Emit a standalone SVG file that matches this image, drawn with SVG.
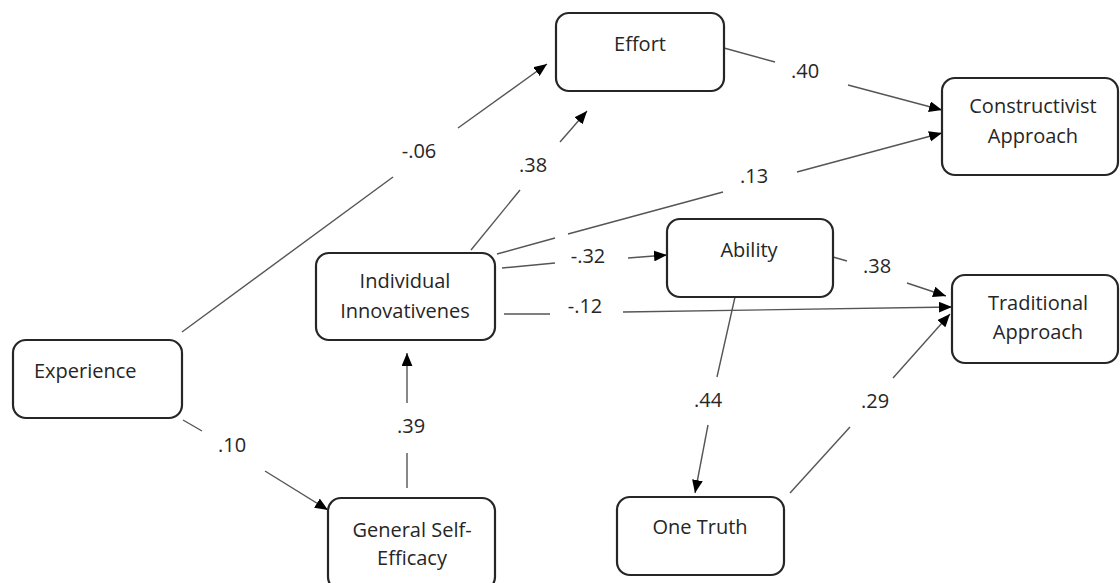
<svg xmlns="http://www.w3.org/2000/svg" width="1120" height="583" viewBox="0 0 1120 583">
<defs>
<style>
.box{fill:#fff;stroke:#262626;stroke-width:2.2}
.t{font-family:"Open Sans","Liberation Sans",sans-serif;font-size:20px;fill:#262626;text-anchor:middle}
.l{font-family:"Open Sans","Liberation Sans",sans-serif;font-size:20px;fill:#262626;text-anchor:middle}
.c{fill:none;stroke:#555;stroke-width:1.4}
</style>
<marker id="ah" viewBox="0 0 12 10" refX="12" refY="5" markerWidth="13" markerHeight="11" markerUnits="userSpaceOnUse" orient="auto">
<path d="M0,0 L12,5 L0,10 z" fill="#000"/>
</marker>
</defs>
<rect width="1120" height="583" fill="#fff"/>
<g id="connectors">
<path class="c" d="M182,332 L393,177"/>
<path class="c" d="M458,128 L547,64" marker-end="url(#ah)"/>
<path class="c" d="M724,48 L775,62"/>
<path class="c" d="M848,85 L942,110" marker-end="url(#ah)"/>
<path class="c" d="M471,250 L520,190"/>
<path class="c" d="M560,142 L587,111" marker-end="url(#ah)"/>
<path class="c" d="M497,254 L555,238 M568,234 L723,192"/>
<path class="c" d="M797,172 L942,133" marker-end="url(#ah)"/>
<path class="c" d="M502,268 L555,263"/>
<path class="c" d="M628,258 L667,255" marker-end="url(#ah)"/>
<path class="c" d="M504,314 L550,314"/>
<path class="c" d="M623,312 L952,307" marker-end="url(#ah)"/>
<path class="c" d="M833,257 L847,261"/>
<path class="c" d="M907,283 L946,296" marker-end="url(#ah)"/>
<path class="c" d="M735,297 L717,377"/>
<path class="c" d="M708,425 L695,493" marker-end="url(#ah)"/>
<path class="c" d="M790,493 L850,427"/>
<path class="c" d="M893,378 L950,314" marker-end="url(#ah)"/>
<path class="c" d="M183,420 L202,431"/>
<path class="c" d="M265,471 L328,510" marker-end="url(#ah)"/>
<path class="c" d="M407,488 L407,453"/>
<path class="c" d="M407,403 L407,353" marker-end="url(#ah)"/>
</g>
<g id="labels">
<text class="l" x="805" y="78">.40</text>
<text class="l" x="419" y="158">-.06</text>
<text class="l" x="533" y="172">.38</text>
<text class="l" x="754" y="183">.13</text>
<text class="l" x="588" y="263">-.32</text>
<text class="l" x="877" y="273">.38</text>
<text class="l" x="585" y="313">-.12</text>
<text class="l" x="708" y="407">.44</text>
<text class="l" x="875" y="408">.29</text>
<text class="l" x="232" y="452">.10</text>
<text class="l" x="411" y="433">.39</text>
</g>
<g id="effort">
<rect class="box" x="556" y="13" width="168" height="78" rx="13"/>
<text class="t" x="640" y="51">Effort</text>
</g>
<g id="constructivist">
<rect class="box" x="942" y="78" width="176" height="97" rx="13"/>
<text class="t" x="1033" y="113">Constructivist</text>
<text class="t" x="1033" y="143">Approach</text>
</g>
<g id="ability">
<rect class="box" x="667" y="219" width="166" height="78" rx="13"/>
<text class="t" x="749" y="257">Ability</text>
</g>
<g id="traditional">
<rect class="box" x="952" y="275" width="166" height="88" rx="13"/>
<text class="t" x="1038" y="310">Traditional</text>
<text class="t" x="1038" y="339">Approach</text>
</g>
<g id="individual">
<rect class="box" x="316" y="253" width="179" height="87" rx="13"/>
<text class="t" x="405" y="288">Individual</text>
<text class="t" x="405" y="318">Innovativenes</text>
</g>
<g id="experience">
<rect class="box" x="13" y="340" width="169" height="78" rx="13"/>
<text class="t" x="34" y="378" style="text-anchor:start">Experience</text>
</g>
<g id="gse">
<rect class="box" x="328" y="498" width="167" height="92" rx="13"/>
<text class="t" x="412" y="537">General Self-</text>
<text class="t" x="412" y="565">Efficacy</text>
</g>
<g id="onetruth">
<rect class="box" x="617" y="497" width="167" height="78" rx="13"/>
<text class="t" x="700" y="534">One Truth</text>
</g>
</svg>
